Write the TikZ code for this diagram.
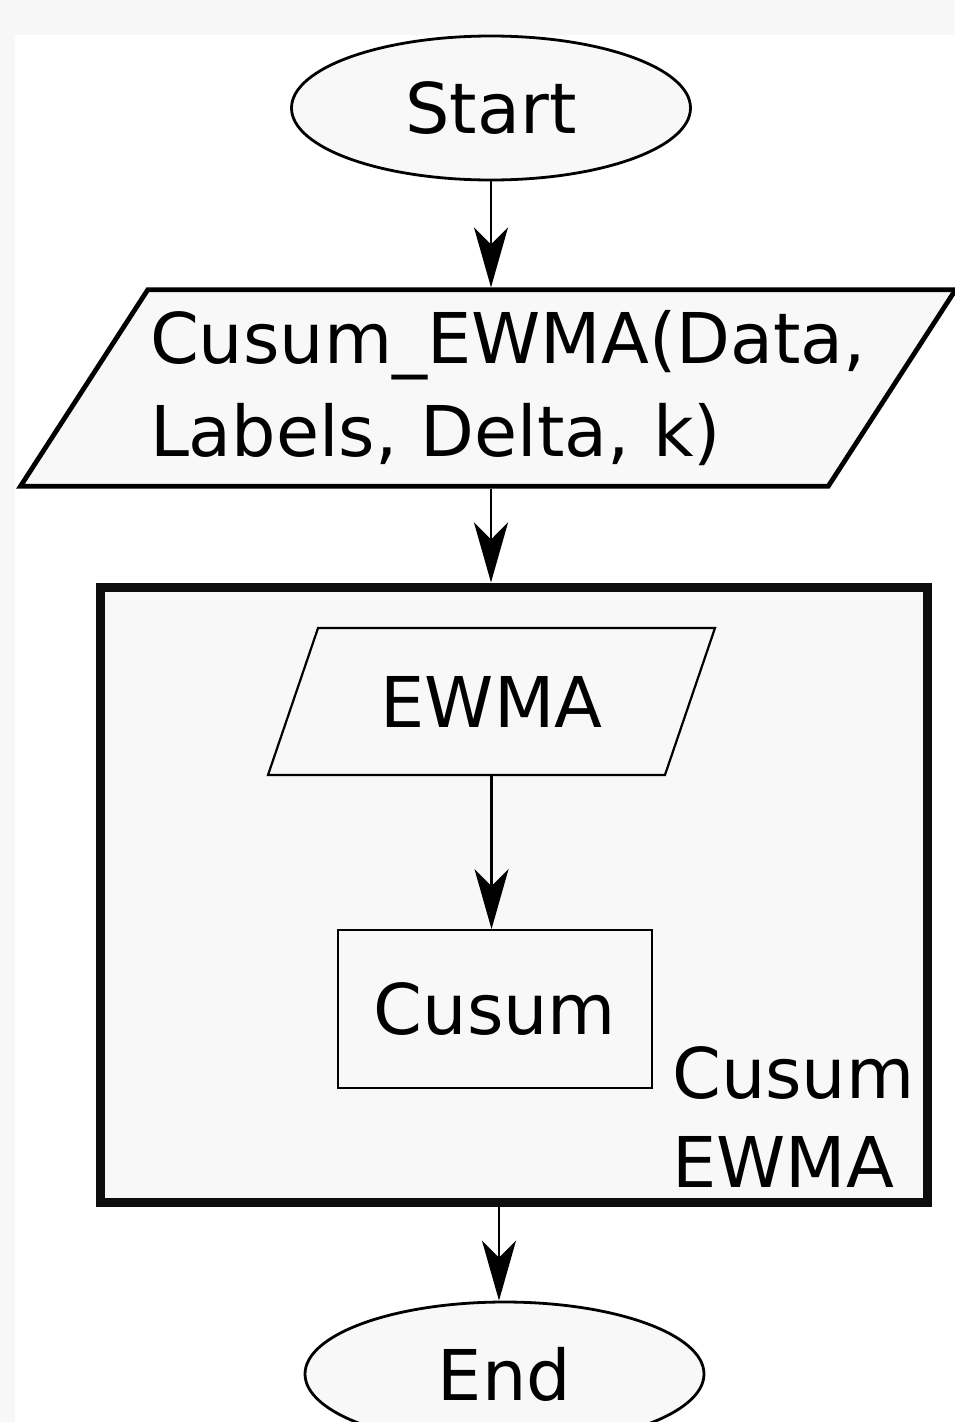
\documentclass[tikz,border=0pt]{standalone}
\usepackage{fontspec}
\setmainfont{DejaVu Sans}
\usetikzlibrary{shapes.geometric, arrows.meta, positioning}
\definecolor{shapefill}{HTML}{F8F8F8}
\definecolor{pagegray}{HTML}{F7F7F7}
\newcommand{\flowfont}{\fontsize{70}{91}\selectfont}
\tikzset{
  terminal/.style={ellipse, minimum width=399pt, minimum height=144pt, inner sep=0pt, text centered, draw=black, line width=2.8pt, fill=shapefill, font=\flowfont},
  io/.style={trapezium, trapezium stretches body=true, trapezium left angle=57.06, trapezium right angle=122.94, minimum width=935pt, minimum height=196pt, inner xsep=0pt, inner ysep=20.5pt, draw=black, line width=4.8pt, fill=shapefill, font=\fontsize{70}{93}\selectfont},
  ioinner/.style={trapezium, trapezium stretches body=true, trapezium left angle=71.2, trapezium right angle=108.8, minimum width=447pt, minimum height=147pt, inner xsep=0pt, inner ysep=48pt, text centered, draw=black, line width=2.2pt, fill=shapefill, font=\flowfont},
  process/.style={rectangle, minimum width=314pt, minimum height=158pt, inner sep=0pt, text centered, draw=black, line width=1.7pt, fill=shapefill, font=\flowfont},
  groupbox/.style={rectangle, minimum width=827pt, minimum height=615pt, inner sep=0pt, draw=black!95, line width=9pt, fill=shapefill},
  arrow/.style={line width=2.5pt,-{Stealth[length=60pt,width=34pt,inset=17pt]}}
}
\begin{document}
\begin{tikzpicture}[x=1pt,y=-1pt]
    % page and sheet
    \fill[pagegray] (0,0) rectangle (955,1422);
    \fill[white] (15,35) rectangle (955,1422);
    \useasboundingbox (0,0) rectangle (955,1422);

    \node (start) [terminal] at (491,108) {Start};
    \node (input) [io, text width=676pt, align=left] at (488,388) {Cusum\_EWMA(Data,\\Labels, Delta, k)};
    \node (group) [groupbox] at (513.5,894.5) {};
    \node (ewma) [ioinner] at (491.5,701.5) {EWMA};
    \node (cusum) [process] at (495,1009) {Cusum};
    \node (grouplabel) [anchor=north west, inner sep=0pt, align=left, font=\fontsize{70}{89}\selectfont] at (672,1046) {Cusum\\EWMA};
    \node (stop) [terminal] at (504.5,1374) {End};
    \coordinate (stoptop) at ([xshift=-5.5pt]stop.north);

    % forward arrows
    \draw[arrow] (start) -- (start |- input.north);
    \draw[arrow] (start |- input.south) -- (start |- group.north);
    \draw[arrow] (ewma.south) -- (ewma.south |- cusum.north);
    \draw[arrow] (group.south -| stoptop) -- (stoptop);
  \end{tikzpicture}
\end{document}
